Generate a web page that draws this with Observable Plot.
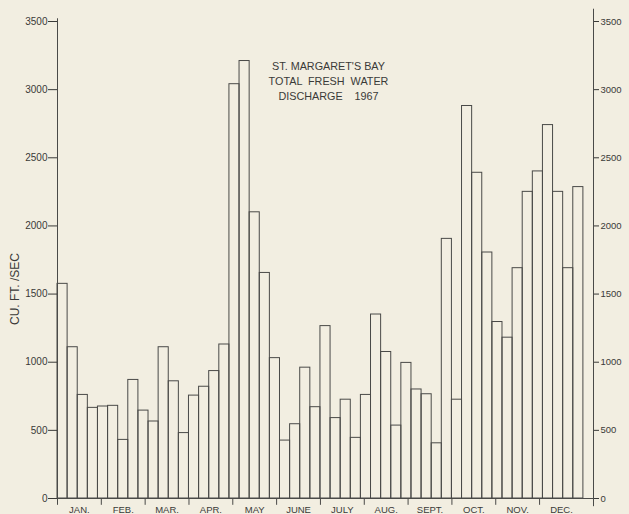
<!DOCTYPE html>
<html><head><meta charset="utf-8">
<script src="https://cdn.jsdelivr.net/npm/d3@7"></script>
<script src="https://cdn.jsdelivr.net/npm/@observablehq/plot@0.6"></script>
<style>
html,body{margin:0;padding:0;background:#f2eee1;}
svg text{white-space:pre;}
</style></head><body><div id="chart"></div>
<script>
// Weekly total fresh water discharge, St. Margaret's Bay, 1967 (cu. ft./sec)
const discharge = [1575, 1110, 760, 665, 675, 680, 430, 870, 645, 565, 1110, 860, 480, 755, 820, 935, 1130,
  3040, 3210, 2100, 1655, 1030, 425, 545, 960, 670, 1265, 590, 725, 445, 760, 1350, 1075, 535, 995, 800,
  765, 405, 1905, 725, 2880, 2390, 1805, 1295, 1180, 1690, 2250, 2400, 2740, 2250, 1690, 2285];
const months = ["JAN.", "FEB.", "MAR.", "APR.", "MAY", "JUNE", "JULY", "AUG.", "SEPT.", "OCT.", "NOV.", "DEC."];
const yTicks = [0, 500, 1000, 1500, 2000, 2500, 3000, 3500];
const titleLines = ["ST. MARGARET'S BAY", "TOTAL  FRESH  WATER", "DISCHARGE    1967"];
const yLabel = "CU. FT. /SEC";

const nWeeks = discharge.length;
const data = discharge.map((v, i) => ({week: i, value: v}));
const monthData = months.map((m, i) => ({month: m, start: nWeeks * i / 12, mid: nWeeks * (i + 0.5) / 12}));
const ink = "#4a4a48";
const textInk = "#3a3a38";
const bg = "#f2eee1";

const chart = Plot.plot({
  width: 629, height: 514,
  marginLeft: 57, marginRight: 36, marginTop: 21, marginBottom: 16,
  x: {domain: [0, nWeeks + 1], axis: null},
  y: {domain: [0, 3500], axis: null, label: null},
  style: {background: bg, color: textInk, fontFamily: "'Liberation Sans', Arial, sans-serif", overflow: "visible"},
  marks: [
    Plot.rectY(data, {x1: "week", x2: d => d.week + 1, y: "value", fill: "none", stroke: ink, strokeWidth: 1}),
    Plot.ruleX([0], {y1: -50, y2: 3520, stroke: ink}),
    Plot.ruleX([nWeeks + 1], {y1: -60, y2: 3590, stroke: ink}),
    Plot.ruleY([0], {x1: -0.7, x2: nWeeks + 1.5, stroke: ink}),
    Plot.ruleX(monthData.slice(1), {x: "start", y1: 0, y2: -50, stroke: ink}),
    Plot.text(monthData, {x: "mid", y: 0, text: "month", dy: 11, fontSize: 9.5, fill: textInk}),
    Plot.axisY({anchor: "left", ticks: yTicks, tickSize: 9, tickPadding: 1, fontSize: 10, tickFormat: d => String(d), label: null}),
    Plot.axisY({anchor: "right", ticks: yTicks, tickSize: 5, tickPadding: 2, fontSize: 9.5, tickFormat: d => String(d), label: null}),
    Plot.text([titleLines.join("\n")], {frameAnchor: "top", dx: 3, dy: 38, lineAnchor: "top", lineHeight: 1.4, fontSize: 10.8, fill: textInk}),
    Plot.text([yLabel], {frameAnchor: "left", textAnchor: "middle", rotate: -90, dx: -42, dy: 29, fontSize: 12, fill: textInk})
  ]
});
document.getElementById("chart").appendChild(chart);
</script></body></html>
